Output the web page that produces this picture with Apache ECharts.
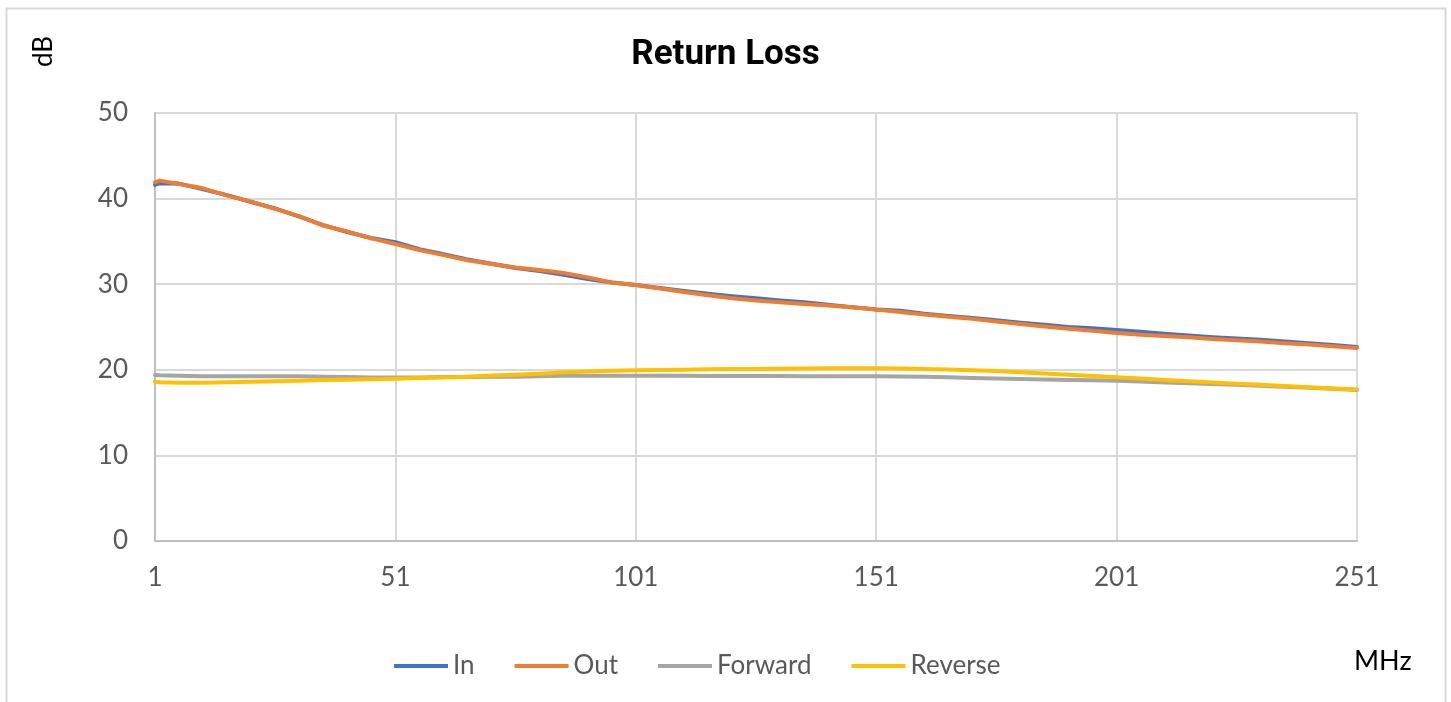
<!DOCTYPE html>
<html>
<head>
<meta charset="utf-8">
<script src="https://cdn.jsdelivr.net/npm/echarts@6/dist/echarts.min.js"></script>
<style>
  html, body { margin: 0; padding: 0; background: #fff; }
  #chart { width: 1451px; height: 702px; }
</style>
</head>
<body>
<div id="chart"></div>
<script>
// frequency points (MHz)
var freq = [1, 2, 6, 11, 16, 21, 26, 31, 36, 41, 46, 51, 56, 61, 66, 71, 76, 81, 86, 91, 96,
  101, 106, 111, 116, 121, 126, 131, 136, 141, 146, 151, 156, 161, 166, 171, 176, 181, 186, 191, 196,
  201, 206, 211, 216, 221, 226, 231, 236, 241, 246, 251];

var rlIn = [41.6, 41.8, 41.75, 41.1, 40.4, 39.6, 38.85, 37.9, 36.9, 36.1, 35.4, 34.9, 34.1, 33.5, 32.9, 32.4, 31.9, 31.55, 31.1, 30.6, 30.2,
  29.9, 29.55, 29.2, 28.9, 28.6, 28.35, 28.1, 27.9, 27.6, 27.3, 27.05, 26.9, 26.55, 26.3, 26.05, 25.8, 25.5, 25.25, 25.0, 24.85,
  24.65, 24.45, 24.2, 24.0, 23.8, 23.65, 23.5, 23.3, 23.1, 22.9, 22.65];

var rlOut = [41.9, 42.1, 41.7, 41.2, 40.35, 39.65, 38.8, 37.95, 36.85, 36.15, 35.35, 34.7, 34.0, 33.4, 32.8, 32.35, 31.95, 31.65, 31.3, 30.8, 30.2,
  29.9, 29.5, 29.1, 28.7, 28.35, 28.1, 27.9, 27.7, 27.5, 27.3, 27.05, 26.75, 26.45, 26.2, 25.95, 25.65, 25.35, 25.05, 24.8, 24.55,
  24.3, 24.1, 23.95, 23.8, 23.6, 23.45, 23.3, 23.1, 22.95, 22.75, 22.55];

var rlForward = [19.4, 19.35, 19.3, 19.25, 19.25, 19.25, 19.25, 19.25, 19.2, 19.15, 19.1, 19.1, 19.1, 19.15, 19.15, 19.2, 19.2, 19.25, 19.3, 19.3, 19.3,
  19.3, 19.3, 19.3, 19.28, 19.28, 19.28, 19.27, 19.26, 19.25, 19.25, 19.24, 19.22, 19.18, 19.12, 19.05, 18.98, 18.92, 18.86, 18.8, 18.77,
  18.72, 18.62, 18.53, 18.44, 18.35, 18.25, 18.15, 18.02, 17.9, 17.8, 17.65];

var rlReverse = [18.6, 18.55, 18.5, 18.5, 18.55, 18.6, 18.65, 18.72, 18.8, 18.85, 18.9, 18.96, 19.05, 19.1, 19.2, 19.32, 19.42, 19.55, 19.7, 19.8, 19.88,
  19.94, 19.98, 20.02, 20.05, 20.08, 20.1, 20.13, 20.15, 20.17, 20.17, 20.17, 20.14, 20.1, 20.04, 19.96, 19.85, 19.72, 19.58, 19.43, 19.28,
  19.12, 18.97, 18.82, 18.67, 18.52, 18.38, 18.25, 18.1, 17.95, 17.82, 17.7];

var seriesNames = ['In', 'Out', 'Forward', 'Reverse'];
var seriesColors = ['#4472C4', '#ED7D31', '#A5A5A5', '#FFC000'];
var seriesValues = [rlIn, rlOut, rlForward, rlReverse];

// x axis is drawn as (MHz - 1) so that ticks land on 1, 51, 101 ...
function pairs(vals) {
  return vals.map(function (v, i) { return [freq[i] - 1, v]; });
}

var labelFont = 'Lato, "Open Sans", sans-serif';

var chart = echarts.init(document.getElementById('chart'));
chart.setOption({
  animation: false,
  title: {
    text: 'Return Loss',
    left: 'center',
    top: 33,
    textStyle: { fontFamily: 'Roboto, sans-serif', fontSize: 35, fontWeight: 'bold', color: '#000' }
  },
  graphic: [
    {
      type: 'rect',
      shape: { x: 6.5, y: 8.5, width: 1439, height: 720 },
      style: { fill: 'none', stroke: '#d9d9d9', lineWidth: 2 },
      silent: true
    },
    {
      type: 'text',
      x: 31, y: 67,
      rotation: Math.PI / 2,
      style: { text: 'dB', font: '26px ' + labelFont, fill: '#000' }
    },
    {
      type: 'text',
      left: 1354, top: 648,
      style: { text: 'MHz', font: '27px ' + labelFont, fill: '#000' }
    }
  ],
  legend: {
    data: seriesNames,
    left: 389,
    top: 648,
    icon: 'rect',
    itemWidth: 54,
    itemHeight: 4,
    itemGap: 40,
    textStyle: { fontFamily: labelFont, fontSize: 26, color: '#595959' }
  },
  grid: { left: 155, right: 94, top: 113, bottom: 161 },
  xAxis: {
    type: 'value',
    min: 0,
    max: 250,
    interval: 50,
    axisLine: { show: true, lineStyle: { color: '#bfbfbf', width: 2 } },
    axisTick: { show: false },
    axisLabel: {
      margin: 24,
      fontFamily: labelFont,
      fontSize: 26,
      color: '#595959',
      formatter: function (v) { return String(v + 1); }
    },
    splitLine: { show: true, lineStyle: { color: '#d9d9d9', width: 2 } }
  },
  yAxis: {
    type: 'value',
    min: 0,
    max: 50,
    interval: 10,
    axisLine: { show: true, lineStyle: { color: '#bfbfbf', width: 2 } },
    axisTick: { show: false },
    axisLabel: { margin: 27, fontFamily: labelFont, fontSize: 26, color: '#595959' },
    splitLine: { show: true, lineStyle: { color: '#d9d9d9', width: 2 } }
  },
  series: seriesNames.map(function (name, i) {
    return {
      name: name,
      type: 'line',
      showSymbol: false,
      symbol: 'none',
      color: seriesColors[i],
      lineStyle: { width: 4, color: seriesColors[i], cap: 'round', join: 'round' },
      data: pairs(seriesValues[i])
    };
  })
});
</script>
</body>
</html>
